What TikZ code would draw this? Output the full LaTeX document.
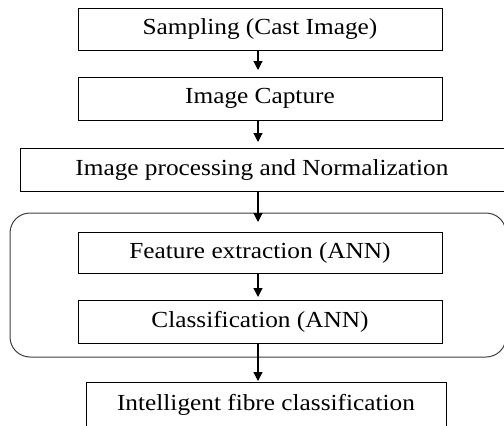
\documentclass[tikz,border=0pt]{standalone}
\usepackage{fontspec}
\setmainfont{Liberation Serif}[FakeStretch=1.1]
\usetikzlibrary{arrows.meta}
\begin{document}
\begin{tikzpicture}[x=1pt,y=-1pt,
  stepbox/.style={draw=black, line width=1pt, inner sep=0pt, font=\fontsize{23}{26}\selectfont},
  flow/.style={draw=black, line width=1.2pt, -{Triangle[length=9pt,width=9pt]}},
  group/.style={draw=black!75, line width=1pt, rounded corners=20pt}]
\useasboundingbox (0,0) rectangle (504,426);
\clip (0,0) rectangle (504,426);
\fill[white] (0,0) rectangle (504,426);
\node[stepbox, minimum width=364pt, minimum height=42pt] (s1) at (260,29) {Sampling (Cast Image)};
\node[stepbox, minimum width=364pt, minimum height=43pt] (s2) at (260,98.5) {Image Capture};
\node[stepbox, minimum width=484pt, minimum height=43pt] (s3) at (262,169.5) {Image processing and Normalization};
\node[group, minimum width=496pt, minimum height=144pt, inner sep=0pt] (g) at (258,285) {};
\node[stepbox, minimum width=364pt, minimum height=41pt] (s4) at (260,252.5) {Feature extraction (ANN)};
\node[stepbox, minimum width=364pt, minimum height=43pt] (s5) at (260,321.5) {Classification (ANN)};
\node[stepbox, minimum width=360pt, minimum height=45pt] (s6) at (266,404.5) {Intelligent fibre classification};
\draw[flow] (s1.south -| 258,0) -- (258,70);
\coordinate (a2) at (258,142);
\draw[flow] (258,120) -- (a2);
\draw[flow] (258,191) -- (258,222);
\draw[flow] (258,273) -- (258,297);
\draw[flow] (258,343) -- (258,381);
\end{tikzpicture}
\end{document}
